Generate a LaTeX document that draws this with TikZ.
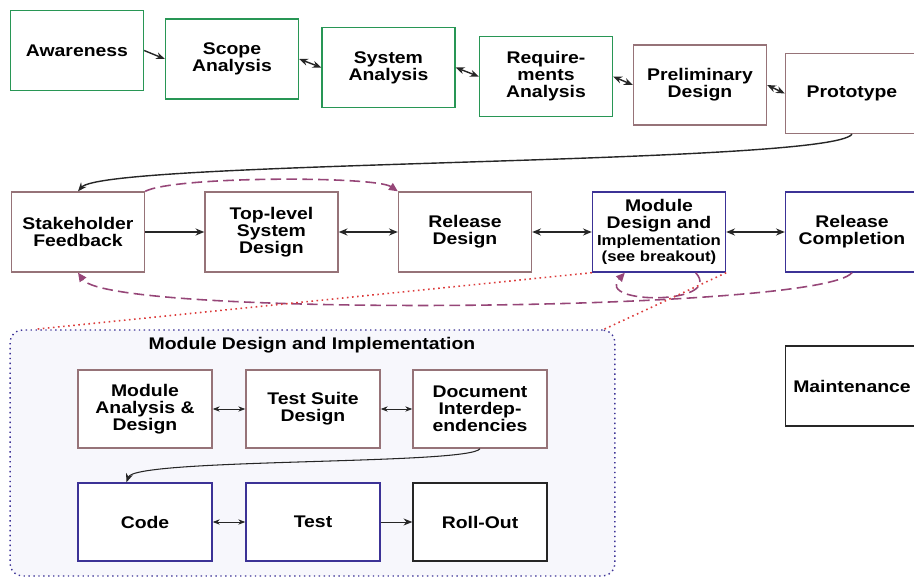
\documentclass[tikz,border=0pt]{standalone}
\usepackage{fontspec}
\setmainfont{Liberation Sans}[FakeStretch=1.15]
\usetikzlibrary{arrows.meta}
\definecolor{boxgreen}{RGB}{40,150,85}
\definecolor{boxmauve}{RGB}{150,115,120}
\definecolor{boxblue}{RGB}{60,50,150}
\definecolor{dashpurple}{RGB}{150,70,120}
\definecolor{dotred}{RGB}{220,60,60}
\definecolor{breakfill}{RGB}{247,247,252}

\begin{document}
\begin{tikzpicture}[x=0.02cm, y=-0.02cm,
  box/.style={draw, fill=white, line width=0.8pt, minimum width=2.66cm, minimum height=1.6cm, align=center, inner sep=1pt, font=\fontsize{9.6}{9.6}\selectfont\bfseries},
  greenbox/.style={box, draw=boxgreen},
  mauvebox/.style={box, draw=boxmauve},
  bluebox/.style={box, draw=boxblue},
  blackbox/.style={box, draw=black!85},
  link/.style={line width=0.8pt, draw=black!85, -{Stealth[length=5pt,width=4pt]}},
  twoway/.style={line width=0.8pt, draw=black!85, {Stealth[length=5pt,width=4pt]}-{Stealth[length=5pt,width=4pt]}},
  thinway/.style={line width=0.5pt, draw=black!85, {Stealth[length=4pt,width=3pt]}-{Stealth[length=4pt,width=3pt]}},
  feedback/.style={line width=0.9pt, draw=dashpurple, dash pattern=on 6pt off 3pt, -{Triangle[length=5pt,width=4.5pt]}},
  breakline/.style={line width=0.9pt, draw=dotred, dotted}
]
\useasboundingbox (0,0) rectangle (914,578);

% top row
\node[greenbox] (aware) at (77,50.5) {Awareness};
\node[greenbox] (scope) at (232,59) {Scope\\Analysis};
\node[greenbox] (sysan) at (388.5,67.5) {System\\Analysis};
\node[greenbox] (reqan) at (546,76.5) {Require-\\ments\\Analysis};
\node[mauvebox] (prelim) at (700,85) {Preliminary\\Design};
\node[mauvebox] (proto) at (852,93.5) {Prototype};

\draw[link] (aware.east) -- (scope.west);
\draw[twoway] (scope.east) -- (sysan.west);
\draw[twoway] (sysan.east) -- (reqan.west);
\draw[twoway] (reqan.east) -- (prelim.west);
\draw[twoway] (prelim.east) -- (proto.west);

% release row
\node[mauvebox] (stake) at (78,232) {Stakeholder\\Feedback};
\node[mauvebox] (toplev) at (271.5,232) {Top-level\\System\\Design};
\node[mauvebox] (reldes) at (465,232) {Release\\Design};
\node[bluebox] (module) at (659,232) {Module\\Design and\\{\fontsize{8.3}{8.3}\selectfont Implementation}\\{\fontsize{8.3}{8.3}\selectfont (see breakout)}};
\node[bluebox] (relcomp) at (852,232) {Release\\Completion};

\draw[link] (proto.south) .. controls (830,165) and (105,160) .. (stake.north);
\draw[link, line width=1pt] (stake.east) -- (toplev.west);
\draw[twoway, line width=1pt] (toplev.east) -- (reldes.west);
\draw[twoway, line width=1pt] (reldes.east) -- (module.west);
\draw[twoway, line width=1pt] (module.east) -- (relcomp.west);

\draw[feedback] (stake.north east) .. controls (175,176) and (375,176) .. (reldes.north west);
\draw[feedback] (relcomp.south) .. controls (820,312) and (110,318) .. (stake.south);
\draw[feedback] (module.312) .. controls (725,305) and (595,305) .. (module.230);

% breakout
\node[draw=boxblue, dotted, line width=0.8pt, fill=breakfill, rounded corners=7pt, minimum width=12.1cm, minimum height=4.92cm] (brk) at (312.5,453) {};
\node[font=\fontsize{9.6}{9.6}\selectfont\bfseries] (brktitle) at (312,345) {Module Design and Implementation};

\draw[breakline] (module.south west) -- (brk.156);
\draw[breakline] (module.south east) -- (brk.23);

\node[mauvebox, minimum width=2.68cm, minimum height=1.56cm] (modan) at (145,409) {Module\\Analysis \&\\Design};
\node[mauvebox, minimum width=2.68cm, minimum height=1.56cm] (suite) at (313,409) {Test Suite\\Design};
\node[mauvebox, minimum width=2.68cm, minimum height=1.56cm] (docint) at (480,409) {Document\\Interdep-\\endencies};
\node[bluebox, minimum width=2.68cm, minimum height=1.56cm] (code) at (145,522) {Code};
\node[bluebox, minimum width=2.68cm, minimum height=1.56cm] (test) at (313,522) {Test};
\node[blackbox, minimum width=2.68cm, minimum height=1.56cm] (rollout) at (480,522) {Roll-Out};

\draw[thinway] (modan.east) -- (suite.west);
\draw[thinway] (suite.east) -- (docint.west);
\draw[link, line width=0.6pt] (docint.south) .. controls (470,465) and (135,458) .. (code.115);
\draw[thinway] (code.east) -- (test.west);
\draw[link, line width=0.5pt] (test.east) -- (rollout.west);

% maintenance
\node[blackbox] (maint) at (852,386) {Maintenance};

\end{tikzpicture}
\end{document}
